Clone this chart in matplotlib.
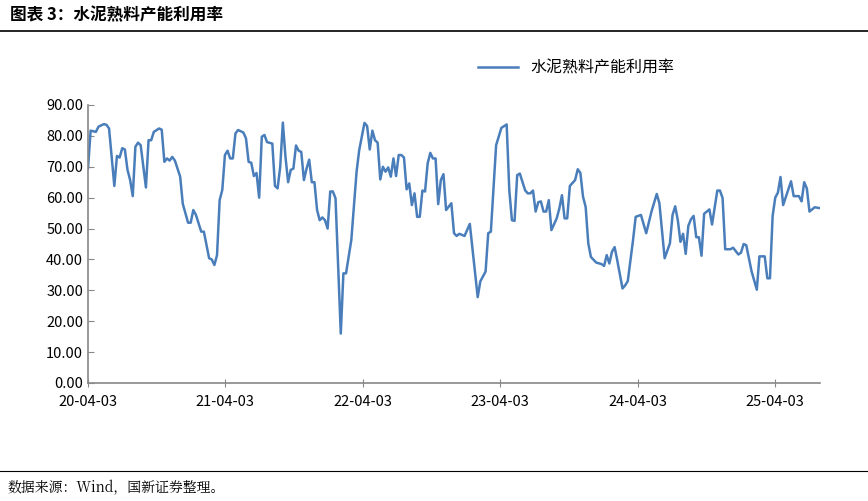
import matplotlib
matplotlib.use("Agg")
import matplotlib.pyplot as plt
import matplotlib.dates as mdates
import numpy as np
import datetime as dt

plt.rcParams['font.family'] = ['Noto Sans CJK SC', 'DejaVu Sans']

start = dt.date(2020, 4, 3)
weeks = [0,1,3,4,6,7,8,10,11,12,13,14,15,16,17,18,19,20,22,23,24,25,27,28,29,30,31,32,33,35,36,38,39,40,41,43,44,46,47,48,49,50,51,52,53,54,55,56,57,59,60,61,62,63,64,65,66,67,68,70,71,72,73,74,75,76,77,78,79,80,81,82,83,84,85,86,87,88,89,90,91,92,93,94,95,96,97,98,99,100,102,103,105,106,107,108,109,110,111,112,113,114,115,116,117,118,119,120,121,122,123,124,125,126,127,128,129,130,131,132,133,134,135,136,138,139,140,141,143,145,147,148,149,151,152,153,155,157,159,160,161,162,163,164,166,167,168,169,170,171,172,173,174,175,176,178,179,180,181,182,183,185,186,187,188,189,190,191,193,195,196,197,198,199,200,201,203,204,205,207,208,210,212,214,216,217,219,221,222,223,224,225,226,227,228,229,230,231,232,233,234,236,237,239,240,241,242,244,245,247,248,249,250,252,254,255,257,258,259,260,261,262,263,264,267,268,270,271,272,273,274,276,278]
values = [69.5,81.7,81.3,83,83.8,83.6,82.4,63.8,73.5,73,76,75.6,69,65.7,60.5,76.5,77.8,77,63.3,78.6,78.6,81.3,82.4,82,71.6,72.7,72,73.2,72,66.8,58,51.9,51.9,56,54.4,49,49,40.4,40,38.2,41.4,59.2,62.5,73.8,75.2,72.7,72.7,80.8,81.9,81.1,79.2,71.6,71.3,67,68,60,79.7,80.3,78,77.5,63.8,63,70,84.3,73.2,65,69,69.4,76.9,75.2,74.8,65.7,69.4,72.3,65,65,56,52.7,53.6,52.7,50,62,62,59.8,37.7,16,35.5,35.5,41,46.3,68.4,75.4,84.2,83.2,75.6,81.7,78.6,77.8,65.9,70,68.4,69.8,66.8,72.7,67,73.8,73.8,73,62.7,64.6,57.6,61.4,53.8,53.8,62.3,62,71.1,74.5,72.7,72.7,57.9,65.7,67.6,56,58.2,48.5,47.6,48.3,47.6,51.5,35.5,27.8,32.9,36.1,48.5,49,77,82.6,83.7,62.4,52.7,52.5,67.3,67.8,62.4,61.4,61.4,62.3,55.5,58.5,58.8,55.5,55.5,59.2,49.5,53.3,56.5,60.8,53.3,53.3,63.8,65.7,69.2,68,60.3,57,45.2,40.8,39,38.5,37.9,41.4,38.7,42.5,44,39.7,30.6,31.6,33,46.3,53.8,54.4,48.5,55.5,61.2,58.2,40.4,45.2,54.4,57.2,52.7,45.7,48.3,41.8,50.9,53,54.1,47.2,47.2,41.2,54.8,56.2,51.3,62.3,62.3,59.9,43.3,43.3,43.8,41.6,42.2,45,44.6,36.2,30.2,41,41,33.9,33.9,54,60,61.6,66.7,57.6,65.3,60.5,60.5,58.8,65,63,55.5,56.9,56.6]
tick_dates = ["2020-04-03","2021-04-03","2022-04-03","2023-04-03","2024-04-03","2025-04-03"]
series_name = "水泥熟料产能利用率"

dates = [start + dt.timedelta(weeks=w) for w in weeks]

fig = plt.figure(figsize=(8.68, 5.01), dpi=100)
ax = fig.add_axes([88/868, 1-383/501, (820-88)/868, (383-105)/501])
line, = ax.plot(dates, values, color='#4a7ebb', lw=1.8)
ax.set_ylim(0, 90)
ax.set_yticks(np.arange(0, 91, 10))
ax.set_yticklabels([f"{v:.2f}" for v in np.arange(0, 91, 10)])
ax.set_xlim(start, dates[-1])
tds = [dt.datetime.strptime(d, "%Y-%m-%d").date() for d in tick_dates]
ax.set_xticks(tds)
ax.set_xticklabels([d.strftime("%y-%m-%d") for d in tds])
for s in ['top', 'right']:
    ax.spines[s].set_visible(False)
for s in ['left', 'bottom']:
    ax.spines[s].set_color('#888888')
    ax.spines[s].set_linewidth(1.2)
ax.tick_params(axis='both', labelsize=10.5, color='#888888', length=4, direction='in')
ax.tick_params(axis='x', direction='inout', length=6, pad=6)
ax.legend([line], [series_name], loc='center', bbox_to_anchor=(576/868, 1-68/501),
          bbox_transform=fig.transFigure, frameon=False, fontsize=11.5, handlelength=2.5)

fig.text(10/868, 1-15/501, "图表 3：水泥熟料产能利用率", fontsize=12, fontweight='bold',
         style='italic', va='center', ha='left')
fig.add_artist(plt.Line2D([0, 1], [1-31/501, 1-31/501], color='black', lw=1.2, transform=fig.transFigure))
fig.add_artist(plt.Line2D([0, 1], [1-471/501, 1-471/501], color='black', lw=0.8, transform=fig.transFigure))
fig.text(8/868, 1-488/501, "数据来源：Wind，国新证券整理。", fontsize=10, va='center', ha='left',
         family=['Noto Serif CJK SC', 'Noto Sans CJK SC', 'DejaVu Sans'])
fig.savefig("out.png", dpi=100)
